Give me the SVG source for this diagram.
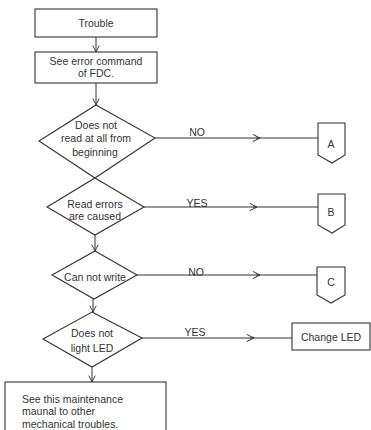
<svg xmlns="http://www.w3.org/2000/svg" width="371" height="430" viewBox="0 0 371 430">
<defs>
<style>
.s{fill:#fff;stroke:#333;stroke-width:1.1}
.l{fill:none;stroke:#333;stroke-width:1}
.t{font-family:"Liberation Sans",Arial,sans-serif;font-size:10.5px;fill:#333}
.c{text-anchor:middle}
</style>
<marker id="ah" viewBox="0 0 10 10" refX="9" refY="5" markerWidth="8" markerHeight="8" markerUnits="userSpaceOnUse" orient="auto">
<path d="M1,1 L9,5 L1,9" fill="none" stroke="#333" stroke-width="1.2"/>
</marker>
<marker id="am" viewBox="0 0 10 10" refX="9" refY="5" markerWidth="9" markerHeight="9" markerUnits="userSpaceOnUse" orient="auto">
<path d="M1,1 L9,5 L1,9" fill="none" stroke="#333" stroke-width="1.1"/>
</marker>
</defs>
<rect width="371" height="430" fill="#fff"/>
<g id="connectors">
<line class="l" x1="96" y1="37" x2="96" y2="52" marker-end="url(#ah)"/>
<line class="l" x1="96" y1="83" x2="96" y2="105" marker-end="url(#ah)"/>
<line class="l" x1="95" y1="170" x2="95" y2="178" marker-end="url(#ah)"/>
<line class="l" x1="95" y1="235" x2="95" y2="251" marker-end="url(#ah)"/>
<line class="l" x1="93" y1="299" x2="93" y2="312" marker-end="url(#ah)"/>
<line class="l" x1="92" y1="367" x2="92" y2="382" marker-end="url(#ah)"/>
<line class="l" x1="155" y1="138" x2="260" y2="138" marker-end="url(#am)"/>
<line class="l" x1="256" y1="138" x2="318" y2="138"/>
<line class="l" x1="144" y1="207" x2="257" y2="207" marker-end="url(#am)"/>
<line class="l" x1="253" y1="207" x2="318" y2="207"/>
<line class="l" x1="137" y1="275" x2="260" y2="275" marker-end="url(#am)"/>
<line class="l" x1="256" y1="275" x2="317" y2="275"/>
<line class="l" x1="142" y1="338" x2="254" y2="338" marker-end="url(#am)"/>
<line class="l" x1="250" y1="338" x2="292" y2="338"/>
<text class="t c" x="197" y="136">NO</text>
<text class="t c" x="197" y="207">YES</text>
<text class="t c" x="196" y="276">NO</text>
<text class="t c" x="195" y="336">YES</text>
</g>
<g id="trouble">
<rect class="s" x="35" y="9" width="122" height="28"/>
<text class="t c" x="96" y="27">Trouble</text>
</g>
<g id="see-error">
<rect class="s" x="35" y="52" width="122" height="31"/>
<text class="t c" x="96" y="65">See error command</text>
<text class="t c" x="96" y="77">of FDC.</text>
</g>
<g id="d1">
<polygon class="s" points="96,105 155,138 95,178 39,141"/>
<text class="t c" x="96" y="129">Does not</text>
<text class="t c" x="96" y="141.5">read at all from</text>
<text class="t c" x="95" y="156">beginning</text>
</g>
<g id="d2">
<polygon class="s" points="95,178 144,207 95,235 47,207"/>
<text class="t c" x="95" y="208">Read errors</text>
<text class="t c" x="95" y="219.5">are caused</text>
</g>
<g id="d3">
<polygon class="s" points="95,251 137,275 94,299 52,275"/>
<text class="t c" x="95" y="281">Can not write</text>
</g>
<g id="d4">
<polygon class="s" points="92,312 142,338 92,367 43,339"/>
<text class="t c" x="92" y="337">Does not</text>
<text class="t c" x="92" y="352">light LED</text>
</g>
<g id="A">
<polygon class="s" points="318,123 345,123 345,155 332,163 318,155"/>
<text class="t c" x="331" y="148">A</text>
</g>
<g id="B">
<polygon class="s" points="318,194 345,194 345,225 332,233 318,225"/>
<text class="t c" x="331" y="216">B</text>
</g>
<g id="C">
<polygon class="s" points="317,267 345,267 345,295 331,303 317,295"/>
<text class="t c" x="331" y="286">C</text>
</g>
<g id="change-led">
<rect class="s" x="292" y="323" width="78" height="27"/>
<text class="t c" x="331" y="341">Change LED</text>
</g>
<g id="see-manual">
<rect class="s" x="5" y="382" width="161" height="52"/>
<text class="t" x="22" y="403">See this maintenance</text>
<text class="t" x="22" y="415">maunal to other</text>
<text class="t" x="22" y="428">mechanical troubles.</text>
</g>
</svg>
